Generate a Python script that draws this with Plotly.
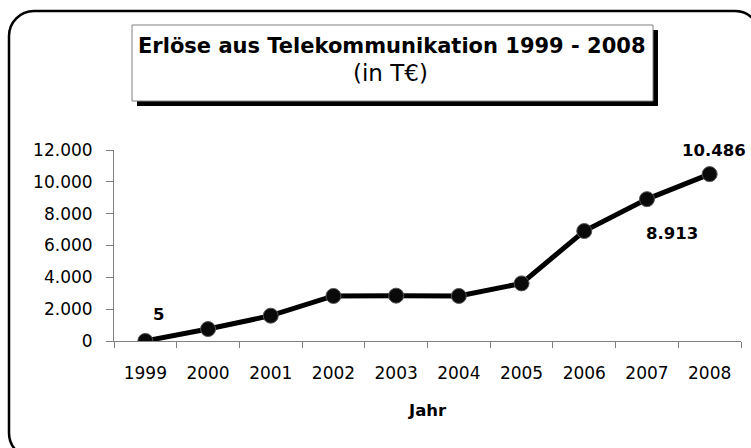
import plotly.graph_objects as go

# ---- data ----
years = ["1999", "2000", "2001", "2002", "2003", "2004", "2005", "2006", "2007", "2008"]
revenue = [5, 750, 1590, 2830, 2850, 2830, 3620, 6910, 8913, 10486]
labeled_years = ["1999", "2007", "2008"]
title_main = "Erlöse aus Telekommunikation 1999 - 2008"
title_sub = "(in T€)"
x_title = "Jahr"
y_ticks = [0, 2000, 4000, 6000, 8000, 10000, 12000]

# ---- layout geometry (pixels) ----
W, H = 751, 448
L, R, T, B = 114, 741, 150, 341  # plot area in pixels


def px(x):
    return (x - L) / (R - L)


def py(y):
    return (B - y) / (B - T)


FONT = "DejaVu Sans"

fig = go.Figure()
fig.add_trace(go.Scatter(
    x=years, y=revenue, mode="lines+markers",
    line=dict(color="#000000", width=5),
    marker=dict(size=15, color="#0a0a0a", line=dict(color="#555555", width=1)),
    hoverinfo="skip", showlegend=False,
))


def fmt(v):
    return f"{v:,}".replace(",", ".")


# label offsets (pixels) per labelled year
offsets = {"1999": (13, 26), "2007": (25, -34), "2008": (4, 24)}
annotations = []
for i, (yr, v) in enumerate(zip(years, revenue)):
    if yr in labeled_years:
        dx, dy = offsets[yr]
        annotations.append(dict(
            x=i, y=v, xref="x", yref="y", text="<b>%s</b>" % fmt(v),
            showarrow=False, xshift=dx, yshift=dy,
            font=dict(family=FONT, size=16.5, color="#000000"),
            xanchor="center", yanchor="middle",
        ))

# title text
annotations.append(dict(
    x=px(392), y=py(46), xref="paper", yref="paper",
    text="<b>%s</b>" % title_main, showarrow=False,
    font=dict(family=FONT, size=21, color="#000000"),
    xanchor="center", yanchor="middle",
))
annotations.append(dict(
    x=px(390), y=py(73), xref="paper", yref="paper",
    text=title_sub, showarrow=False,
    font=dict(family=FONT, size=23, color="#000000"),
    xanchor="center", yanchor="middle",
))
# x axis title
annotations.append(dict(
    x=0.5, y=py(410), xref="paper", yref="paper",
    text="<b>%s</b>" % x_title, showarrow=False,
    font=dict(family=FONT, size=16.5, color="#000000"),
    xanchor="center", yanchor="middle",
))


def rrect_path(x0, y0, x1, y1, r):
    k = 0.5523 * r
    pts = []
    def P(x, y):
        return f"{px(x):.5f},{py(y):.5f}"
    pts.append(f"M {P(x0 + r, y0)}")
    pts.append(f"L {P(x1 - r, y0)}")
    pts.append(f"C {P(x1 - r + k, y0)} {P(x1, y0 + r - k)} {P(x1, y0 + r)}")
    pts.append(f"L {P(x1, y1 - r)}")
    pts.append(f"C {P(x1, y1 - r + k)} {P(x1 - r + k, y1)} {P(x1 - r, y1)}")
    pts.append(f"L {P(x0 + r, y1)}")
    pts.append(f"C {P(x0 + r - k, y1)} {P(x0, y1 - r + k)} {P(x0, y1 - r)}")
    pts.append(f"L {P(x0, y0 + r)}")
    pts.append(f"C {P(x0, y0 + r - k)} {P(x0 + r - k, y0)} {P(x0 + r, y0)}")
    pts.append("Z")
    return " ".join(pts)


shapes = [
    # outer rounded frame
    dict(type="path", xref="paper", yref="paper",
         path=rrect_path(9, 11, 760, 458, 25),
         line=dict(color="#000000", width=2.5), fillcolor="rgba(0,0,0,0)",
         layer="below"),
    # title shadow
    dict(type="rect", xref="paper", yref="paper",
         x0=px(137), x1=px(658), y0=py(106), y1=py(30),
         line=dict(width=0), fillcolor="#000000", layer="below"),
    # title box
    dict(type="rect", xref="paper", yref="paper",
         x0=px(132), x1=px(653), y0=py(101), y1=py(25),
         line=dict(color="#808080", width=1), fillcolor="#ffffff", layer="below"),
]

fig.update_layout(
    width=W, height=H,
    margin=dict(l=L, r=W - R, t=T, b=H - B, pad=0),
    paper_bgcolor="#ffffff", plot_bgcolor="rgba(0,0,0,0)",
    separators=",.",
    font=dict(family=FONT, size=17, color="#000000"),
    annotations=annotations,
    shapes=shapes,
    showlegend=False,
)
fig.update_xaxes(
    type="category", range=[-0.5, len(years) - 0.5],
    showgrid=False, zeroline=False,
    showline=True, linecolor="#808080", linewidth=1,
    ticks="outside", ticklen=6, tickcolor="#808080", tickwidth=1,
    tickson="boundaries", ticklabelstandoff=17,
    tickfont=dict(family=FONT, size=17, color="#000000"),
)
fig.update_yaxes(
    range=[0, 12000], tickvals=y_ticks, tickformat=",",
    showgrid=False, zeroline=False,
    showline=True, linecolor="#808080", linewidth=1,
    ticks="outside", ticklen=7, tickcolor="#808080", tickwidth=1,
    ticklabelstandoff=10,
    tickfont=dict(family=FONT, size=17, color="#000000"),
)

fig.write_html("out.html", config={"displayModeBar": False},
               post_script="document.body.style.margin='0';")
